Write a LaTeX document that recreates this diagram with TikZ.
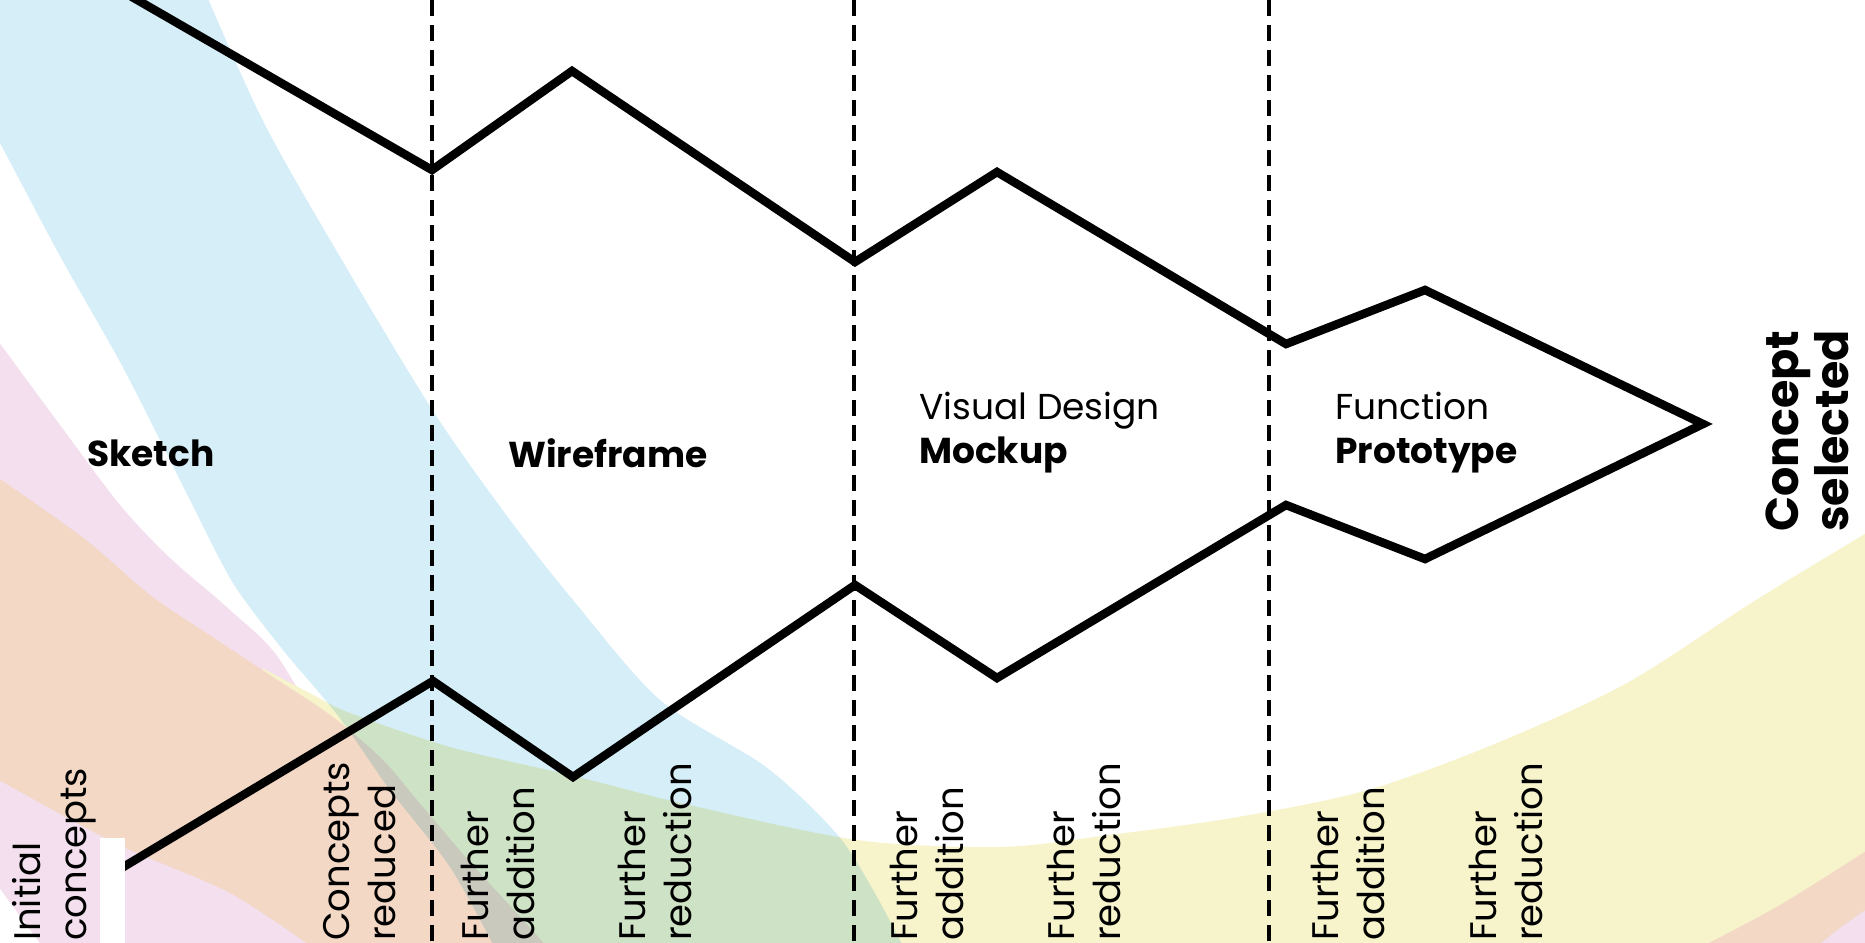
\documentclass[tikz,border=0pt]{standalone}
\usepackage{fontspec}
\setmainfont{Poppins}
\definecolor{bandblue}{RGB}{213,238,247}
\definecolor{bandyellow}{RGB}{247,244,204}
\definecolor{bandpeach}{RGB}{242,216,197}
\definecolor{bandpink}{RGB}{243,223,238}
\begin{document}
\begin{tikzpicture}[x=1pt,y=-1pt,
  trend/.style={line width=8.5pt, line join=miter, miter limit=20},
  gate/.style={line width=3.4pt, dash pattern=on 16pt off 9pt},
  phase/.style={font=\fontsize{36}{44}\selectfont, align=left, anchor=west, inner sep=0pt},
  note/.style={font=\fontsize{37}{46}\selectfont, rotate=90, align=left, anchor=north west, inner sep=0pt},
]
\useasboundingbox (0,0) rectangle (1865,942);
\fill[white] (0,0) rectangle (1865,942);

% pastel rainbow sweep behind the funnel
\begin{scope}
\clip (0,0) rectangle (1865,942);
\fill[bandpink] plot[smooth] coordinates {(-10,330) (60,425) (120,505) (170,558) (230,610) (280,660) (330,760) (380,950)}
  -- (45,950) -- (-10,875) -- cycle;
\fill[bandyellow] plot[smooth] coordinates {(262,668) (300,688) (317,697) (350,713) (450,747) (574,776) (689,805) (857,840) (1000,847) (1109,835) (1238,817) (1368,790) (1497,743) (1627,683) (1756,600) (1880,525)}
  -- (1880,950) -- (500,950) -- (300,760) -- cycle;
\fill[bandpeach] plot[smooth] coordinates {(-10,472) (86,540) (150,595) (217,640) (267,673) (333,717) (383,760) (417,800) (470,862) (512,908) (550,950)}
  -- plot[smooth] coordinates {(316,950) (230,893) (115,843) (-10,775)} -- cycle;
\fill[bandblue, blend mode=multiply] plot[smooth] coordinates {(200,-20) (262,119) (336,250) (433,411) (510,520) (573,600) (660,700) (766,767) (836,833) (872,888) (905,950)}
  -- plot[smooth] coordinates {(496,950) (450,867) (390,790) (345,725) (317,690) (283,650) (233,583) (190,500) (160,440) (119,360) (60,256) (0,143) (-10,126)}
  -- (-10,-20) -- cycle;
\fill[bandpeach] plot[smooth] coordinates {(1695,950) (1780,905) (1880,842)} -- (1880,950) -- cycle;
\fill[bandpink] plot[smooth] coordinates {(1813,950) (1840,928) (1880,900)} -- (1880,950) -- cycle;
\end{scope}

% stage boundaries
\coordinate (g1t) at (432,0);   \coordinate (g1b) at (432,942);
\coordinate (g2t) at (854,0);   \coordinate (g2b) at (854,942);
\coordinate (g3t) at (1269,0);  \coordinate (g3b) at (1269,942);
\draw[gate] (g1t) -- (g1b);
\draw[gate] (g2t) -- (g2b);
\draw[gate] (g3t) -- (g3b);

% funnel outline
\coordinate (t0) at (120,-10);
\coordinate (t1) at (432,170);
\coordinate (t2) at (572,71);
\coordinate (t3) at (855,262);
\coordinate (t4) at (997,172);
\coordinate (t5) at (1286,344);
\coordinate (t6) at (1425,290);
\coordinate (tip) at (1703,424);
\coordinate (b0) at (110,875);
\coordinate (b1) at (433,681);
\coordinate (b2) at (573,777);
\coordinate (b3) at (855,585);
\coordinate (b4) at (997,678);
\coordinate (b5) at (1286,505);
\coordinate (b6) at (1425,559);
\draw[trend] (t0) -- (t1) -- (t2) -- (t3) -- (t4) -- (t5) -- (t6) -- (tip)
  -- (b6) -- (b5) -- (b4) -- (b3) -- (b2) -- (b1) -- (b0);
\fill[white] (100,838) rectangle (125,950);

% stage names
\node[phase] (sketch) at (87,453) {\bfseries Sketch};
\node[phase] (wire) at (508,453) {\bfseries Wireframe};
\node[phase] (mock) at (919,433) {Visual Design\\\bfseries Mockup};
\node[phase] (proto) at (1335,433) {Function\\\bfseries Prototype};
\node[font=\fontsize{46}{50}\selectfont\bfseries, rotate=90, align=left, inner sep=0pt] (sel) at (1807,431) {Concept\\selected};

% step notes along the bottom
\node[note] (n1) at (12,941) {Initial\\concepts};
\node[note] (n2) at (323,941) {Concepts\\reduced};
\node[note] (n3) at (461,941) {Further\\addition};
\node[note] (n4) at (618,941) {Further\\reduction};
\node[note] (n5) at (890,941) {Further\\addition};
\node[note] (n6) at (1047,941) {Further\\reduction};
\node[note] (n7) at (1311,941) {Further\\addition};
\node[note] (n8) at (1469,941) {Further\\reduction};
\end{tikzpicture}
\end{document}
